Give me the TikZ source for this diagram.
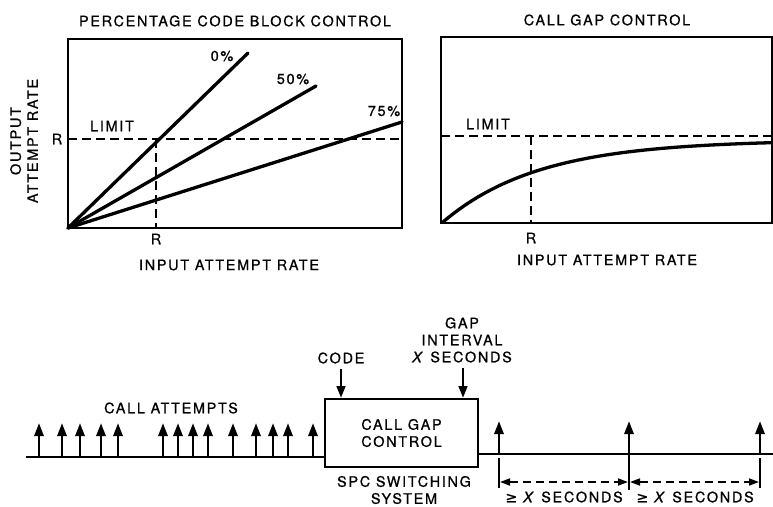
\documentclass[tikz,border=0pt]{standalone}
\usepackage{fontspec}
\setmainfont{TeX Gyre Heros}[LetterSpace=12, FakeBold=0.8]
\newfontfamily\symf{DejaVu Sans}[FakeBold=0.8]
\usetikzlibrary{arrows.meta}

\begin{document}
\begin{tikzpicture}[x=1pt,y=-1pt,
  lbl/.style={inner sep=0pt, font=\fontsize{14.4}{17}\selectfont, align=center},
  frame/.style={line width=1.9pt},
  graph/.style={line width=3.3pt, line cap=round},
  guide/.style={line width=1.9pt, dash pattern=on 9pt off 5pt},
  pulse/.style={line width=2.8pt, -{Triangle[length=13pt,width=9pt]}},
  feed/.style={line width=2.8pt, -{Triangle[length=12pt,width=8.5pt]}},
  span/.style={line width=1.7pt, dash pattern=on 8pt off 5pt,
    {Triangle[length=10pt,width=7pt]}-{Triangle[length=10pt,width=7pt]}},
]
\useasboundingbox (0,0) rectangle (773,506);

% ---------- percentage code block control ----------
\node[lbl] (t1) at (235,21) {PERCENTAGE CODE BLOCK CONTROL};
\draw[frame] (68,39) rectangle (402,228);
\coordinate (o1) at (68,228);
\draw[guide] (68,139) -- (402,139);
\draw[guide] (156,139) -- (156,228);
\draw[graph] (o1) -- (248,53);
\draw[graph] (o1) -- (316,86);
\draw[graph] (o1) -- (402,122);
\node[lbl] (p0) at (222,56) {0\%};
\node[lbl] (p50) at (293,79) {50\%};
\node[lbl] (p75) at (384,111) {75\%};
\node[lbl] (lim1) at (112,126) {LIMIT};
\node[lbl] (ry) at (57,139) {R};
\node[lbl] (rx1) at (156,239) {R};
\node[lbl] (in1) at (229,265) {INPUT ATTEMPT RATE};
\node[lbl, rotate=90] (out1) at (24,141) {OUTPUT\\ATTEMPT RATE};

% ---------- call gap control ----------
\node[lbl] (t2) at (607,20) {CALL GAP CONTROL};
\draw[frame] (441,37) rectangle (772,223);
\draw[guide] (441,136) -- (772,136);
\draw[guide] (531,136) -- (531,223);
\draw[graph] plot[domain=443:772, samples=80, smooth]
  (\x,{222-82*(1-exp(-(\x-443)/96))});
\node[lbl] (lim2) at (488,124) {LIMIT};
\node[lbl] (rx2) at (531,238) {R};
\node[lbl] (in2) at (607,260) {INPUT ATTEMPT RATE};

% ---------- switching system ----------
\node[draw, frame, lbl, minimum width=153pt, minimum height=68pt]
  (cgc) at (401.5,433) {CALL GAP\\CONTROL};
\node[lbl] (spc) at (404,490) {SPC SWITCHING\\SYSTEM};
\node[lbl] (code) at (341,358) {CODE};
\node[lbl] (gap) at (462,340) {GAP\\INTERVAL\\\textit{X} SECONDS};
\draw[feed, shorten <=5pt] (code.south) -- (code.south |- cgc.north);
\draw[feed, shorten <=5pt] (463,363) -- (463,0 |- cgc.north);

\coordinate (inL) at (26,457);
\coordinate (outR) at (773,454);
\draw[frame] (inL) -- (inL -| cgc.west);
\draw[frame] (outR -| cgc.east) -- (outR);

\node[lbl] (att) at (171,408) {CALL ATTEMPTS};
\foreach \x in {39,62,80,101,118,163,178,193,208,233,256,273,288,313}
  \draw[pulse] (\x,457) -- (\x,423);
\foreach \x in {499,629,760}
  \draw[pulse] (\x,454) -- (\x,421);

\draw[frame] (499,458) -- (499,488);
\draw[frame] (629,454) -- (629,490);
\draw[frame] (760,458) -- (760,488);
\draw[span] (500,482) -- (628,482);
\draw[span] (630,482) -- (759,482);
\node[lbl] (s1) at (564,497) {{\symf ≥} \textit{X} SECONDS};
\node[lbl] (s2) at (695,497) {{\symf ≥} \textit{X} SECONDS};
\end{tikzpicture}
\end{document}
